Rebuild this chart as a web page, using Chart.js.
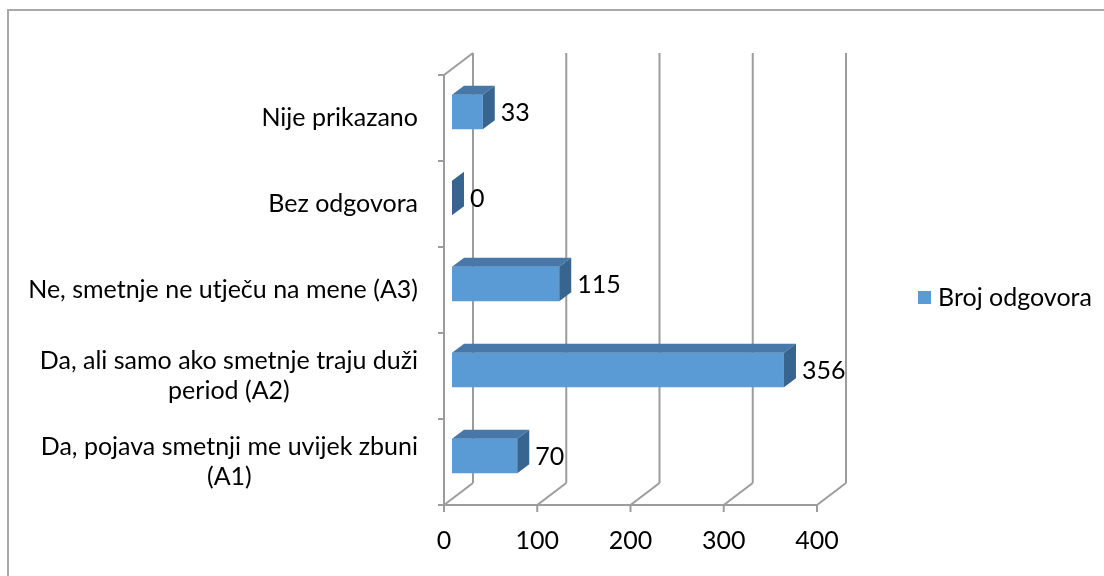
<!DOCTYPE html>
<html>
<head>
<meta charset="utf-8">
<script src="https://cdn.jsdelivr.net/npm/chart.js@4.4.1/dist/chart.umd.min.js"></script>
<style>
  html, body { margin: 0; padding: 0; background: #fff; }
  #wrap { width: 1104px; height: 576px; }
</style>
</head>
<body>
<div id="wrap"><canvas id="myChart" width="1104" height="576"></canvas></div>
<script>
// categories from bottom to top, the way the axis lists them
const categories = [
    ['Da, pojava smetnji me uvijek zbuni', '(A1)'],
    ['Da, ali samo ako smetnje traju duži', 'period (A2)'],
    'Ne, smetnje ne utječu na mene (A3)',
    'Bez odgovora',
    'Nije prikazano'
];
const answers = [70, 356, 115, 0, 33];
const seriesName = 'Broj odgovora';
const xTicks = [0, 100, 200, 300, 400];

const FONT = 'Lato, sans-serif';
const FONT_SIZE = 25;
const frontColor = '#5b9bd5';
const topColor = '#4778a9';
const sideColor = '#386590';
const gridColor = '#9c9c9c';

// 3d look: depth of the walls and where the boxes sit inside that depth
const WALL_DX = 29, WALL_DY = -22;
const BAR_SHIFT_X = 8, BAR_SHIFT_Y = -6;
const BAR_DX = 12, BAR_DY = -9;

function line(ctx, x1, y1, x2, y2) {
    ctx.beginPath();
    ctx.moveTo(x1, y1);
    ctx.lineTo(x2, y2);
    ctx.stroke();
}

function poly(ctx, pts, color) {
    ctx.beginPath();
    ctx.moveTo(pts[0][0], pts[0][1]);
    for (let i = 1; i < pts.length; i++) ctx.lineTo(pts[i][0], pts[i][1]);
    ctx.closePath();
    ctx.fillStyle = color;
    ctx.fill();
}

const frame3d = {
    id: 'frame3d',
    beforeDraw(chart) {
        const ctx = chart.ctx;
        // outer frame, only top and left edges fall inside the picture
        ctx.save();
        ctx.strokeStyle = '#a9a9a9';
        ctx.lineWidth = 2;
        line(ctx, 8, 10, 1104, 10);
        line(ctx, 8, 9, 8, 576);
        ctx.restore();
    },
    beforeDatasetsDraw(chart) {
        const ctx = chart.ctx;
        const area = chart.chartArea;
        const x = chart.scales.x;
        const y = chart.scales.y;
        const x0 = x.getPixelForValue(0);
        const x1 = x.getPixelForValue(400);

        ctx.save();
        ctx.strokeStyle = gridColor;
        ctx.lineWidth = 2;
        ctx.lineCap = 'butt';

        // back wall gridlines + floor diagonals + ticks under the floor
        xTicks.forEach(v => {
            const px = x.getPixelForValue(v);
            line(ctx, px + WALL_DX, area.top + WALL_DY, px + WALL_DX, area.bottom + WALL_DY);
            line(ctx, px, area.bottom, px + WALL_DX, area.bottom + WALL_DY);
            line(ctx, px, area.bottom, px, area.bottom + 7);
        });
        // front edge of the floor
        line(ctx, x0, area.bottom, x1, area.bottom);
        // side wall
        line(ctx, x0, area.top, x0, area.bottom);
        line(ctx, x0, area.top, x0 + WALL_DX, area.top + WALL_DY);
        // category ticks on the side wall
        const n = categories.length;
        const band = (area.bottom - area.top) / n;
        for (let i = 0; i <= n; i++) {
            const ty = area.top + i * band;
            line(ctx, x0 - 6, ty, x0, ty);
        }

        // category labels, right aligned block, lines centred inside it
        ctx.fillStyle = '#000';
        ctx.font = FONT_SIZE + 'px ' + FONT;
        ctx.textBaseline = 'middle';
        ctx.textAlign = 'center';
        const lh = 30;
        categories.forEach((c, i) => {
            const lines = Array.isArray(c) ? c : [c];
            const cy = y.getPixelForValue(i);
            const w = Math.max(...lines.map(t => ctx.measureText(t).width));
            const right = x0 - 26;
            const startY = cy - (lines.length - 1) * lh / 2;
            lines.forEach((t, k) => ctx.fillText(t, right - w / 2, startY + k * lh));
        });

        // legend
        ctx.fillStyle = frontColor;
        ctx.fillRect(918, 291, 13, 13);
        ctx.fillStyle = '#000';
        ctx.textAlign = 'left';
        ctx.fillText(seriesName, 938, 298);
        ctx.restore();

        // the boxes sit a little behind the front plane
        ctx.save();
        ctx.translate(BAR_SHIFT_X, BAR_SHIFT_Y);
    },
    afterDatasetsDraw(chart) {
        const ctx = chart.ctx;
        const meta = chart.getDatasetMeta(0);
        meta.data.forEach((bar, i) => {
            const p = bar.getProps(['x', 'y', 'base', 'height'], true);
            const top = p.y - p.height / 2;
            const bottom = p.y + p.height / 2;
            // top face
            poly(ctx, [[p.base, top], [p.base + BAR_DX, top + BAR_DY],
                [p.x + BAR_DX, top + BAR_DY], [p.x, top]], topColor);
            // end face
            poly(ctx, [[p.x, top], [p.x + BAR_DX, top + BAR_DY],
                [p.x + BAR_DX, bottom + BAR_DY], [p.x, bottom]], sideColor);
            // value label
            ctx.fillStyle = '#000';
            ctx.font = FONT_SIZE + 'px ' + FONT;
            ctx.textAlign = 'left';
            ctx.textBaseline = 'middle';
            ctx.fillText(String(answers[i]), p.x + 18, p.y + 1);
        });
        ctx.restore();
    }
};

new Chart(document.getElementById('myChart'), {
    type: 'bar',
    data: {
        labels: categories,
        datasets: [{
            label: seriesName,
            data: answers,
            backgroundColor: frontColor,
            borderWidth: 0,
            categoryPercentage: 1,
            barPercentage: 0.4
        }]
    },
    options: {
        indexAxis: 'y',
        responsive: false,
        animation: false,
        events: [],
        layout: { padding: { left: 444, right: 287, top: 75, bottom: 0 } },
        plugins: {
            legend: { display: false },
            tooltip: { enabled: false }
        },
        scales: {
            x: {
                min: 0,
                max: 400,
                afterBuildTicks: s => { s.ticks = xTicks.map(v => ({ value: v })); },
                afterFit: s => { s.height = 71; },
                grid: { display: false, drawTicks: false },
                border: { display: false },
                ticks: {
                    color: '#000',
                    padding: 21,
                    font: { family: FONT, size: FONT_SIZE }
                }
            },
            y: {
                reverse: true,
                afterFit: s => { s.width = 0; },
                grid: { display: false, drawTicks: false },
                border: { display: false },
                ticks: { display: false }
            }
        }
    },
    plugins: [frame3d]
});
</script>
</body>
</html>
